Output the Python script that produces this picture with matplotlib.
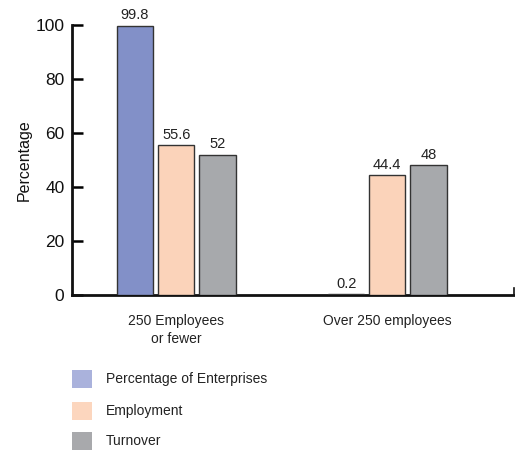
import matplotlib
matplotlib.use("Agg")
import matplotlib.pyplot as plt
from matplotlib.patches import Rectangle
import numpy as np

plt.rcParams['font.family'] = ['Liberation Sans', 'DejaVu Sans']

categories = ["250 Employees\nor fewer", "Over 250 employees"]
series_names = ["Percentage of Enterprises", "Employment", "Turnover"]
enterprises = [99.8, 0.2]
employment = [55.6, 44.4]
turnover = [52, 48]
value_labels = [["99.8", "0.2"], ["55.6", "44.4"], ["52", "48"]]
y_ticks = [0, 20, 40, 60, 80, 100]

bar_colors = ["#8290C8", "#FBD3BA", "#A7A9AC"]
legend_colors = ["#AAB2DC", "#FCD6BE", "#A8A9AC"]

fig = plt.figure(figsize=(5.15, 4.55), dpi=100)
ax = fig.add_axes([0.140, 0.3516, 0.858, 0.5934])

x = np.arange(len(categories))
width = 0.172
offsets = [-0.195, 0.0, 0.195]
for vals, off, col, labs in zip([enterprises, employment, turnover], offsets, bar_colors, value_labels):
    bars = ax.bar(x + off, vals, width, color=col, edgecolor="#333333", linewidth=1.0, zorder=3)
    for b, lab in zip(bars, labs):
        ax.text(b.get_x() + b.get_width() / 2, b.get_height() + 1.2, lab,
                ha="center", va="bottom", fontsize=10.5, color="#222222", clip_on=False)

ax.set_xlim(-0.493, 1.600)
ax.set_ylim(0, 100)
ax.set_yticks(y_ticks)
ax.set_yticklabels([str(t) for t in y_ticks], fontsize=12.5, color="#111111")
ax.tick_params(axis="y", direction="in", length=8, width=1.8, pad=5.5)
ax.set_xticks(x)
ax.set_xticklabels(categories, fontsize=10, color="#222222", linespacing=1.3)
ax.tick_params(axis="x", length=0, pad=14)

for s in ["top", "right"]:
    ax.spines[s].set_visible(False)
for s in ["left", "bottom"]:
    ax.spines[s].set_linewidth(2)
    ax.spines[s].set_color("#111111")

# short end stub on the right of the baseline
ax.plot([1.598, 1.598], [0, 2.5], color="#111111", lw=1.2, clip_on=False)

ax.set_ylabel("Percentage", fontsize=11.5, color="#111111", labelpad=3)

# legend drawn as swatches + labels below the plot
ys = [379, 411, 441]
for name, col, yp in zip(series_names, legend_colors, ys):
    fy = 1 - yp / 455
    fig.patches.append(Rectangle((72 / 515, fy - 9 / 455), 20 / 515, 18 / 455,
                                 transform=fig.transFigure, facecolor=col, edgecolor="none"))
    fig.text(106 / 515, fy, name, fontsize=10, color="#222222", va="center", ha="left")

fig.savefig("out.png", dpi=100)
